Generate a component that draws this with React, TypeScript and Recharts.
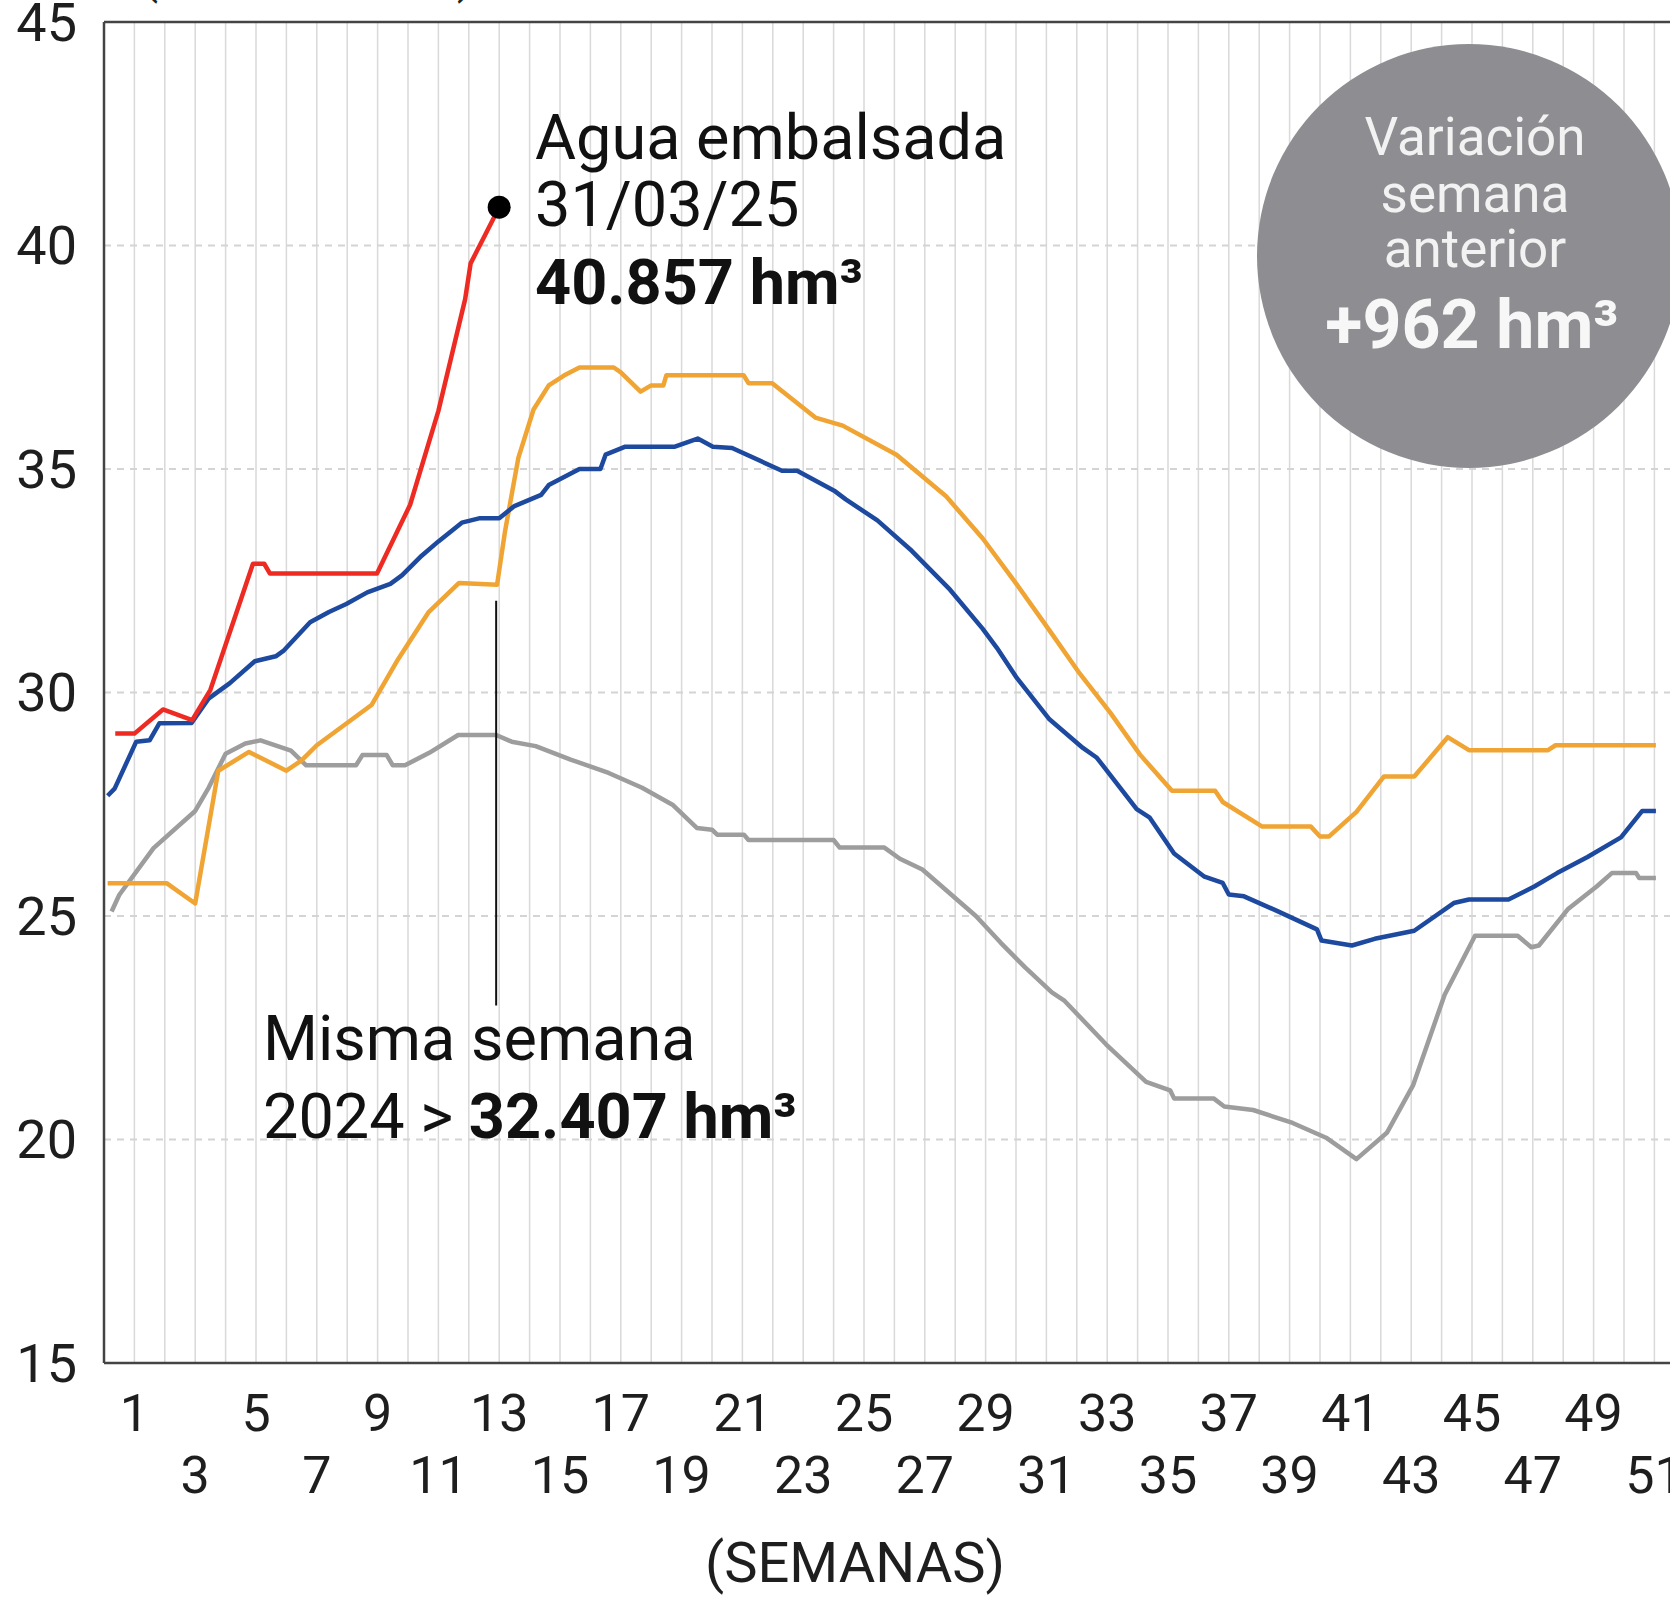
import React from 'react';
import { LineChart, Line, XAxis, YAxis, CartesianGrid, ReferenceLine, ReferenceDot } from 'recharts';

// Agua embalsada por semana (miles de hm³)
const yTicks = [15, 20, 25, 30, 35, 40, 45];
const weekTicks = [
  1, 2, 3, 4, 5, 6, 7, 8, 9, 10, 11, 12, 13, 14, 15, 16, 17, 18, 19, 20, 21, 22, 23, 24, 25, 26,
  27, 28, 29, 30, 31, 32, 33, 34, 35, 36, 37, 38, 39, 40, 41, 42, 43, 44, 45, 46, 47, 48, 49, 50, 51, 52,
];

// 2025 (rojo)
const weeks2025 = [0.37, 1.0, 1.94, 2.9, 3.5, 4.9, 5.27, 5.46, 8.98, 10.07, 11.0, 11.88, 12.06, 13.0];
const values2025 = [29.08, 29.08, 29.62, 29.38, 30.06, 32.88, 32.88, 32.66, 32.66, 34.2, 36.3, 38.8, 39.6, 40.857];

// 2024 (naranja)
const weeks2024 = [
  0.12, 2.07, 3.0, 3.76, 4.77, 6.0, 6.5, 7.0, 8.8, 9.67, 10.67, 11.68, 12.93, 13.19, 13.63, 14.13, 14.63,
  15.13, 15.64, 16.77, 17.0, 17.65, 18.0, 18.4, 18.5, 21.04, 21.2, 21.98, 23.4, 24.3, 26.07, 27.7, 28.9,
  30.0, 31.1, 32.1, 33.1, 34.08, 35.13, 36.55, 36.8, 38.1, 39.7, 40.0, 40.3, 41.2, 42.1, 43.1, 44.2, 44.9,
  47.5, 47.75, 51.05,
];
const values2024 = [
  25.73, 25.73, 25.28, 28.25, 28.67, 28.25, 28.48, 28.82, 29.72, 30.74, 31.79, 32.45, 32.41, 33.6, 35.25,
  36.33, 36.87, 37.09, 37.27, 37.27, 37.16, 36.73, 36.87, 36.87, 37.1, 37.1, 36.92, 36.92, 36.15, 35.97,
  35.32, 34.39, 33.45, 32.44, 31.39, 30.42, 29.55, 28.61, 27.8, 27.8, 27.55, 27.0, 27.0, 26.78, 26.78,
  27.33, 28.12, 28.12, 29.0, 28.71, 28.71, 28.82, 28.82,
];

// media (azul)
const weeksMedia = [
  0.12, 0.35, 1.06, 1.5, 1.82, 2.88, 3.45, 4.14, 4.96, 5.65, 5.9, 6.78, 7.4, 7.97, 8.66, 9.42, 9.8, 10.45,
  11.0, 11.77, 12.37, 13.0, 13.5, 14.38, 14.63, 15.64, 16.33, 16.5, 17.15, 18.78, 19.53, 20.03, 20.66,
  22.3, 22.8, 24.05, 24.4, 25.44, 26.57, 27.83, 28.9, 29.37, 30.0, 31.1, 32.2, 32.66, 33.97, 34.4, 35.2,
  36.2, 36.8, 37.0, 37.5, 38.6, 39.9, 40.05, 41.05, 41.8, 43.1, 44.4, 44.9, 46.2, 47.05, 47.8, 48.8, 49.9,
  50.6, 51.05,
];
const valuesMedia = [
  27.69, 27.85, 28.9, 28.93, 29.31, 29.32, 29.87, 30.21, 30.7, 30.81, 30.93, 31.57, 31.8, 31.98, 32.24,
  32.43, 32.62, 33.06, 33.38, 33.8, 33.9, 33.9, 34.17, 34.42, 34.64, 35.0, 35.0, 35.32, 35.5, 35.5, 35.68,
  35.5, 35.47, 34.96, 34.96, 34.5, 34.32, 33.85, 33.17, 32.3, 31.43, 31.0, 30.35, 29.4, 28.76, 28.54, 27.39,
  27.2, 26.4, 25.88, 25.74, 25.48, 25.44, 25.11, 24.7, 24.45, 24.34, 24.49, 24.67, 25.29, 25.37, 25.37,
  25.66, 25.96, 26.32, 26.76, 27.35, 27.35,
];

// 2023 (gris)
const weeks2023 = [
  0.25, 0.5, 1.63, 3.0, 3.45, 4.0, 4.65, 5.15, 6.15, 6.65, 8.29, 8.5, 9.3, 9.5, 9.9, 10.7, 11.65, 12.9,
  13.41, 14.2, 15.35, 16.6, 17.7, 18.7, 19.5, 20.0, 20.17, 21.05, 21.2, 24.0, 24.2, 25.67, 26.18, 26.92,
  27.8, 28.68, 29.5, 30.3, 31.18, 31.6, 32.96, 34.28, 35.07, 35.2, 36.5, 36.85, 37.8, 39.1, 40.2, 41.2,
  42.2, 43.06, 44.1, 45.1, 46.5, 46.95, 47.2, 48.15, 49.1, 49.6, 50.4, 50.5, 51.05,
];
const values2023 = [
  25.1, 25.47, 26.52, 27.35, 27.88, 28.63, 28.86, 28.93, 28.7, 28.37, 28.37, 28.6, 28.6, 28.37, 28.37,
  28.65, 29.05, 29.05, 28.9, 28.8, 28.5, 28.2, 27.87, 27.49, 26.97, 26.93, 26.82, 26.82, 26.7, 26.7, 26.53,
  26.53, 26.28, 26.04, 25.52, 25.0, 24.4, 23.85, 23.29, 23.1, 22.13, 21.29, 21.1, 20.92, 20.92, 20.74,
  20.66, 20.37, 20.04, 19.56, 20.15, 21.21, 23.24, 24.56, 24.56, 24.3, 24.34, 25.15, 25.66, 25.96, 25.96,
  25.85, 25.85,
];

const toRows = (weeks: number[], values: number[]) => weeks.map((w, i) => ({ week: w, v: values[i] }));

const FONT = 'Roboto, "Noto Sans", sans-serif';

const WeekTick = (props: any) => {
  const { x, y, payload } = props;
  const w = payload.value;
  if (w % 2 === 0 || w > 51) return <g />;
  const row = ((w - 1) / 2) % 2;
  return (
    <text x={x} y={y + (row === 0 ? 50 : 112)} textAnchor="middle" dominantBaseline="central"
      fontSize={52} fontFamily={FONT} fill="#1e1e1e">
      {w}
    </text>
  );
};

const ValueTick = (props: any) => {
  const { x, y, payload } = props;
  return (
    <text x={x - 27} y={y} textAnchor="end" dominantBaseline="central" fontSize={54} fontFamily={FONT} fill="#1e1e1e">
      {payload.value}
    </text>
  );
};

const App = () => {
  const last = weeks2025.length - 1;
  return (
    <div style={{ position: 'absolute', top: 0, left: 0, width: 1670, height: 1599, overflow: 'hidden', background: '#fff' }}>
      <LineChart width={1700} height={1599} margin={{ top: 22, right: 0, left: 0, bottom: 0 }}>
        <CartesianGrid horizontal={false} stroke="#d9d9d9" strokeWidth={1.5} />
        <CartesianGrid vertical={false} stroke="#d4d4d4" strokeWidth={2} strokeDasharray="7 6" />
        <XAxis
          type="number"
          dataKey="week"
          domain={[0, 52.5]}
          ticks={weekTicks}
          interval={0}
          height={236}
          tickSize={0}
          tickMargin={0}
          tickLine={false}
          axisLine={{ stroke: '#444', strokeWidth: 2.5 }}
          tick={<WeekTick />}
          allowDataOverflow
        />
        <YAxis
          type="number"
          domain={[15, 45]}
          ticks={yTicks}
          width={104}
          tickSize={0}
          tickMargin={0}
          tickLine={false}
          axisLine={{ stroke: '#444', strokeWidth: 2.5 }}
          tick={<ValueTick />}
        />
        <ReferenceLine y={45} stroke="#444" strokeWidth={2.5} />
        <Line data={toRows(weeks2023, values2023)} dataKey="v" type="linear" stroke="#9d9d9d" strokeWidth={4.5}
          dot={false} isAnimationActive={false} strokeLinejoin="round" />
        <Line data={toRows(weeks2024, values2024)} dataKey="v" type="linear" stroke="#f0a433" strokeWidth={4.5}
          dot={false} isAnimationActive={false} strokeLinejoin="round" />
        <Line data={toRows(weeksMedia, valuesMedia)} dataKey="v" type="linear" stroke="#1d4a9f" strokeWidth={4.5}
          dot={false} isAnimationActive={false} strokeLinejoin="round" />
        <Line data={toRows(weeks2025, values2025)} dataKey="v" type="linear" stroke="#ee2b22" strokeWidth={4.5}
          dot={false} isAnimationActive={false} strokeLinejoin="round" />
        <ReferenceLine segment={[{ x: 12.9, y: 32.05 }, { x: 12.9, y: 23.0 }]} stroke="#111" strokeWidth={2} />
        <ReferenceDot x={weeks2025[last]} y={values2025[last]} r={11.5} fill="#000" stroke="none" />
      </LineChart>

      <svg width={1670} height={1599} style={{ position: 'absolute', top: 0, left: 0, pointerEvents: 'none' }}
        fontFamily={FONT}>
        <text x={142} y={-7} fontSize={47} fill="#222">(MILES DE hm³)</text>

        <text x={535} y={159} fontSize={63} fill="#111">Agua embalsada</text>
        <text x={535} y={226} fontSize={63} fill="#111">31/03/25</text>
        <text x={535} y={304} fontSize={63} fontWeight={700} fill="#111">40.857 hm³</text>

        <text x={263} y={1060} fontSize={63} fill="#111">Misma semana</text>
        <text x={263} y={1138} fontSize={63} fill="#111">
          2024 &gt; <tspan fontWeight={700}>32.407 hm³</tspan>
        </text>

        <circle cx={1469} cy={256} r={212} fill="#8e8e92" />
        <text x={1475} y={155} fontSize={53} fill="#f2f2f2" textAnchor="middle">Variación</text>
        <text x={1475} y={212} fontSize={53} fill="#f2f2f2" textAnchor="middle">semana</text>
        <text x={1475} y={267} fontSize={53} fill="#f2f2f2" textAnchor="middle">anterior</text>
        <text x={1472} y={348} fontSize={68} fontWeight={700} fill="#f7f7f7" textAnchor="middle">+962 hm³</text>

        <text x={855} y={1563} fontSize={56} fill="#1e1e1e" textAnchor="middle" dominantBaseline="central">(SEMANAS)</text>
      </svg>
    </div>
  );
};

export default App;
